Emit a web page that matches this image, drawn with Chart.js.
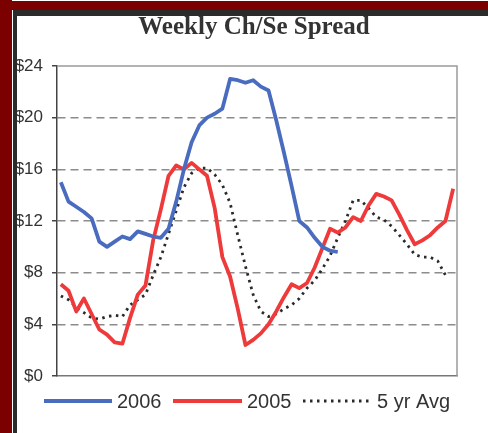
<!DOCTYPE html>
<html lang="en">
<head>
<meta charset="UTF-8">
<title>Weekly Ch/Se Spread</title>
<script src="https://cdn.jsdelivr.net/npm/chart.js"></script>
<style>
  html, body { margin: 0; padding: 0; background: #fff; }
  #wrap { position: relative; width: 488px; height: 433px; }
</style>
</head>
<body>
<div id="wrap"><canvas id="chart" width="488" height="433"></canvas></div>
<script>
  // week numbers (no labels shown on the x axis)
  const weeks = [1, 2, 3, 4, 5, 6, 7, 8, 9, 10, 11, 12, 13, 14, 15, 16, 17, 18, 19, 20,
    21, 22, 23, 24, 25, 26, 27, 28, 29, 30, 31, 32, 33, 34, 35, 36, 37, 38, 39, 40,
    41, 42, 43, 44, 45, 46, 47, 48, 49, 50, 51, 52];

  const spread2006 = [15.0, 13.5, 13.1, 12.7, 12.2, 10.4, 10.0, 10.4, 10.8, 10.6,
    11.2, 11.0, 10.8, 10.7, 11.4, 13.5, 16.0, 18.1, 19.4, 20.0,
    20.3, 20.7, 23.0, 22.9, 22.7, 22.9, 22.4, 22.1, 19.8, 17.3,
    14.7, 12.0, 11.5, 10.7, 10.0, 9.7, 9.6];

  const spread2005 = [7.1, 6.6, 5.0, 6.0, 4.8, 3.6, 3.2, 2.6, 2.5, 4.5,
    6.3, 7.0, 10.5, 12.9, 15.5, 16.3, 16.0, 16.5, 16.0, 15.5,
    13.0, 9.2, 7.7, 5.2, 2.4, 2.8, 3.3, 4.0, 5.0, 6.1,
    7.1, 6.8, 7.2, 8.4, 9.9, 11.4, 11.1, 11.5, 12.3, 12.0,
    13.2, 14.1, 13.9, 13.6, 12.5, 11.3, 10.2, 10.5, 10.9, 11.5,
    12.0, 14.5];

  const avg5yr = [6.2, 5.9, 5.3, 4.9, 4.5, 4.4, 4.6, 4.7, 4.6, 5.5,
    5.9, 6.3, 7.8, 9.2, 11.0, 12.8, 14.6, 15.7, 16.1, 16.1,
    15.6, 14.8, 13.4, 10.9, 8.5, 6.3, 5.0, 4.6, 4.8, 5.2,
    5.5, 6.0, 6.8, 7.4, 8.3, 9.3, 10.7, 12.0, 13.6, 13.6,
    13.0, 12.3, 12.1, 11.6, 10.9, 10.2, 9.4, 9.2, 9.2, 8.9,
    7.8];

  const yTicks = [0, 4, 8, 12, 16, 20, 24];

  // legend slots: line start, line end, text start
  const legendSlots = [[44, 112, 117], [173, 242, 247], [303, 372, 377]];

  const decor = {
    id: 'decor',
    beforeDatasetsDraw(chart) {
      const { ctx, chartArea: a } = chart;
      ctx.save();
      ctx.strokeStyle = '#9a9a9a';
      ctx.lineWidth = 1.5;
      ctx.beginPath();
      ctx.moveTo(a.left, a.top);
      ctx.lineTo(a.right, a.top);
      ctx.lineTo(a.right, a.bottom);
      ctx.stroke();
      ctx.restore();
    },
    afterDraw(chart) {
      const ctx = chart.ctx;
      ctx.save();
      // title
      ctx.fillStyle = '#333';
      ctx.font = 'bold 25px "Liberation Serif", "Times New Roman", serif';
      ctx.textAlign = 'center';
      ctx.textBaseline = 'alphabetic';
      ctx.fillText('Weekly Ch/Se Spread', 254, 34);

      // legend
      ctx.textAlign = 'left';
      ctx.textBaseline = 'middle';
      ctx.font = '20px "Liberation Sans", Arial, sans-serif';
      chart.data.datasets.forEach((ds, i) => {
        const [x1, x2, tx] = legendSlots[i];
        ctx.strokeStyle = ds.borderColor;
        ctx.lineWidth = ds.borderWidth;
        ctx.setLineDash(ds.borderDash || []);
        ctx.beginPath();
        ctx.moveTo(x1, 401);
        ctx.lineTo(x2, 401);
        ctx.stroke();
        ctx.setLineDash([]);
        ctx.fillStyle = '#333';
        ctx.fillText(ds.label, tx, 402);
      });

      // outer frame
      ctx.fillStyle = '#7b0000';
      ctx.fillRect(0, 1, 488, 9);
      ctx.fillRect(0, 0, 12, 433);
      ctx.fillStyle = '#2b2b2b';
      ctx.fillRect(13, 10, 475, 6);
      ctx.fillRect(13, 10, 4, 423);
      ctx.restore();
    }
  };

  new Chart(document.getElementById('chart'), {
    type: 'line',
    data: {
      labels: weeks,
      datasets: [
        { label: '2006', data: spread2006, borderColor: '#4a6cbf', borderWidth: 3.8 },
        { label: '2005', data: spread2005, borderColor: '#ee3a3a', borderWidth: 3.8 },
        { label: '5 yr Avg', data: avg5yr, borderColor: '#2a2a2a', borderWidth: 2.8, borderDash: [2.5, 4.5] }
      ]
    },
    options: {
      responsive: false,
      animation: false,
      elements: {
        point: { radius: 0 },
        line: { tension: 0, borderJoinStyle: 'round' }
      },
      layout: { padding: { top: 66, bottom: 57, right: 31, left: 0 } },
      plugins: {
        legend: { display: false },
        title: { display: false },
        tooltip: { enabled: false }
      },
      scales: {
        x: {
          type: 'category',
          offset: true,
          grid: { display: false },
          ticks: { display: false },
          border: { display: true, color: '#777', width: 1.5 },
          afterFit: s => { s.height = 0; }
        },
        y: {
          min: 0,
          max: 24,
          afterBuildTicks: s => { s.ticks = yTicks.map(v => ({ value: v })); },
          ticks: {
            callback: v => '$' + v,
            color: '#333',
            font: { family: '"Liberation Sans", Arial, sans-serif', size: 17 },
            padding: 9
          },
          grid: {
            color: c => (c.tick && (c.tick.value === 0 || c.tick.value === 24)) ? 'rgba(0,0,0,0)' : '#8c8c8c',
            lineWidth: 1.5,
            tickLength: 5,
            tickColor: '#444',
            tickWidth: 1.5
          },
          border: { color: '#444', width: 1.5, dash: [8, 5] },
          afterFit: s => { s.width = 57; }
        }
      }
    },
    plugins: [decor]
  });
</script>
</body>
</html>
